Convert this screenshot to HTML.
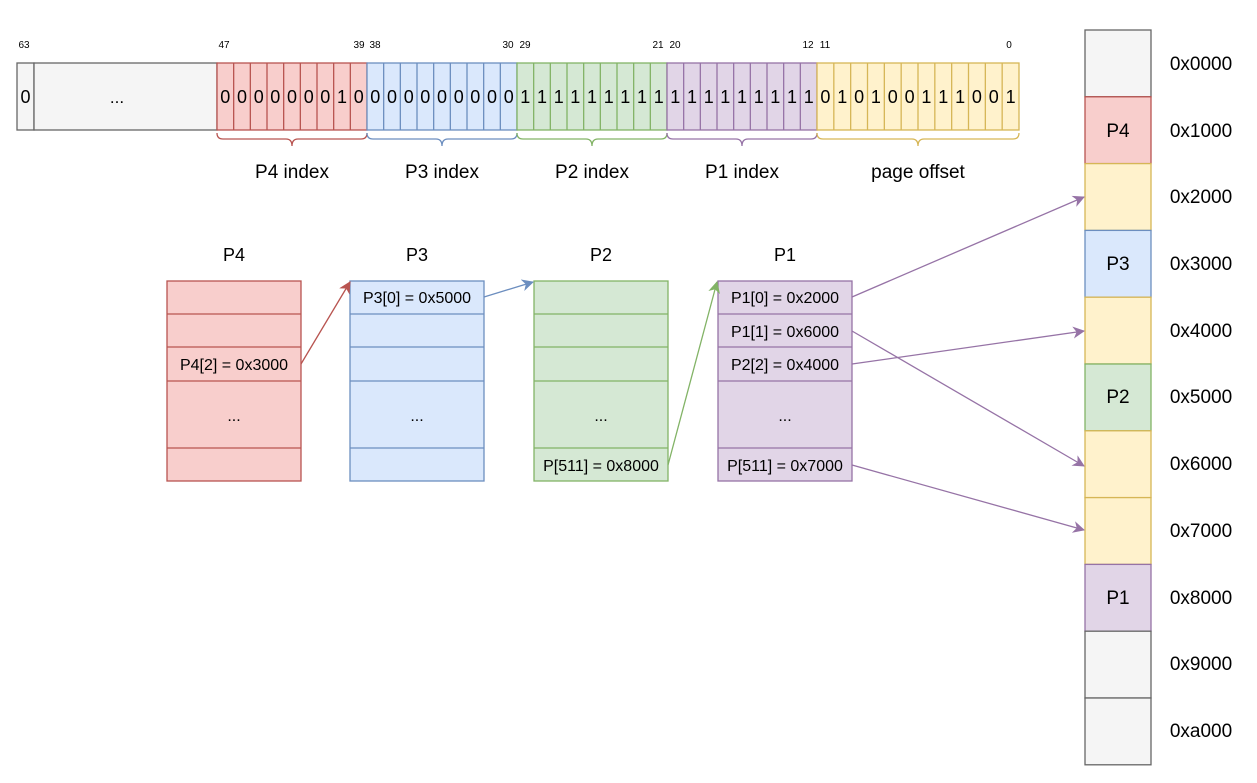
<!DOCTYPE html>
<html><head><meta charset="utf-8"><style>
html,body{margin:0;padding:0;background:#fff;}
svg{display:block;font-family:"Liberation Sans",Arial,sans-serif;}
</style></head><body>
<svg width="1257" height="783" viewBox="0 0 1257 783" xmlns="http://www.w3.org/2000/svg">
<defs>
<marker id="aR" markerWidth="12" markerHeight="12" refX="11" refY="6" orient="auto" markerUnits="userSpaceOnUse"><path d="M0,0 L12,6 L0,12 L3.5,6 Z" fill="#b85450"/></marker>
<marker id="aB" markerWidth="12" markerHeight="12" refX="11" refY="6" orient="auto" markerUnits="userSpaceOnUse"><path d="M0,0 L12,6 L0,12 L3.5,6 Z" fill="#6c8ebf"/></marker>
<marker id="aG" markerWidth="12" markerHeight="12" refX="11" refY="6" orient="auto" markerUnits="userSpaceOnUse"><path d="M0,0 L12,6 L0,12 L3.5,6 Z" fill="#82b366"/></marker>
<marker id="aP" markerWidth="12" markerHeight="12" refX="11" refY="6" orient="auto" markerUnits="userSpaceOnUse"><path d="M0,0 L12,6 L0,12 L3.5,6 Z" fill="#9673a6"/></marker>
</defs>

<g font-size="10" fill="#000" text-anchor="middle">
<text x="24" y="48">63</text><text x="224" y="48">47</text><text x="359" y="48">39</text><text x="375" y="48">38</text>
<text x="508" y="48">30</text><text x="525" y="48">29</text><text x="658" y="48">21</text><text x="675" y="48">20</text>
<text x="808" y="48">12</text><text x="825" y="48">11</text><text x="1009" y="48">0</text>
</g>

<rect x="17" y="63" width="17" height="67" fill="#f5f5f5" stroke="#666" stroke-width="1.3"/>
<rect x="34" y="63" width="183" height="67" fill="#f5f5f5" stroke="#666" stroke-width="1.3"/>
<text x="25.5" y="103" font-size="18" text-anchor="middle">0</text>
<text x="117" y="103" font-size="17" text-anchor="middle">...</text>

<g stroke="#b85450" stroke-width="1.3" fill="#f8cecc">
<rect x="217" y="63" width="150" height="67"/>
<path d="M233.67 63V130M250.33 63V130M267 63V130M283.67 63V130M300.33 63V130M317 63V130M333.67 63V130M350.33 63V130" fill="none"/>
</g>
<g stroke="#6c8ebf" stroke-width="1.3" fill="#dae8fc">
<rect x="367" y="63" width="150" height="67"/>
<path d="M383.67 63V130M400.33 63V130M417 63V130M433.67 63V130M450.33 63V130M467 63V130M483.67 63V130M500.33 63V130" fill="none"/>
</g>
<g stroke="#82b366" stroke-width="1.3" fill="#d5e8d4">
<rect x="517" y="63" width="150" height="67"/>
<path d="M533.67 63V130M550.33 63V130M567 63V130M583.67 63V130M600.33 63V130M617 63V130M633.67 63V130M650.33 63V130" fill="none"/>
</g>
<g stroke="#9673a6" stroke-width="1.3" fill="#e1d5e7">
<rect x="667" y="63" width="150" height="67"/>
<path d="M683.67 63V130M700.33 63V130M717 63V130M733.67 63V130M750.33 63V130M767 63V130M783.67 63V130M800.33 63V130" fill="none"/>
</g>
<g stroke="#d6b656" stroke-width="1.3" fill="#fff2cc">
<rect x="817" y="63" width="202" height="67"/>
<path d="M833.83 63V130M850.67 63V130M867.5 63V130M884.33 63V130M901.17 63V130M918 63V130M934.83 63V130M951.67 63V130M968.5 63V130M985.33 63V130M1002.17 63V130" fill="none"/>
</g>

<g font-size="18" text-anchor="middle" fill="#000">
<text x="225.3" y="103">0</text><text x="242" y="103">0</text><text x="258.7" y="103">0</text><text x="275.3" y="103">0</text><text x="292" y="103">0</text><text x="308.7" y="103">0</text><text x="325.3" y="103">0</text><text x="342" y="103">1</text><text x="358.7" y="103">0</text>
<text x="375.3" y="103">0</text><text x="392" y="103">0</text><text x="408.7" y="103">0</text><text x="425.3" y="103">0</text><text x="442" y="103">0</text><text x="458.7" y="103">0</text><text x="475.3" y="103">0</text><text x="492" y="103">0</text><text x="508.7" y="103">0</text>
<text x="525.3" y="103">1</text><text x="542" y="103">1</text><text x="558.7" y="103">1</text><text x="575.3" y="103">1</text><text x="592" y="103">1</text><text x="608.7" y="103">1</text><text x="625.3" y="103">1</text><text x="642" y="103">1</text><text x="658.7" y="103">1</text>
<text x="675.3" y="103">1</text><text x="692" y="103">1</text><text x="708.7" y="103">1</text><text x="725.3" y="103">1</text><text x="742" y="103">1</text><text x="758.7" y="103">1</text><text x="775.3" y="103">1</text><text x="792" y="103">1</text><text x="808.7" y="103">1</text>
<text x="825.4" y="103">0</text><text x="842.3" y="103">1</text><text x="859.1" y="103">0</text><text x="875.9" y="103">1</text><text x="892.8" y="103">0</text><text x="909.6" y="103">0</text><text x="926.4" y="103">1</text><text x="943.3" y="103">1</text><text x="960.1" y="103">1</text><text x="976.9" y="103">0</text><text x="993.8" y="103">0</text><text x="1010.6" y="103">1</text>
</g>

<g fill="none" stroke-width="1.3">
<path stroke="#b85450" d="M217 133 Q217 139 223 139 L286 139 Q292 139 292 146 Q292 139 298 139 L361 139 Q367 139 367 133"/>
<path stroke="#6c8ebf" d="M367 133 Q367 139 373 139 L436 139 Q442 139 442 146 Q442 139 448 139 L511 139 Q517 139 517 133"/>
<path stroke="#82b366" d="M517 133 Q517 139 523 139 L586 139 Q592 139 592 146 Q592 139 598 139 L661 139 Q667 139 667 133"/>
<path stroke="#9673a6" d="M667 133 Q667 139 673 139 L736 139 Q742 139 742 146 Q742 139 748 139 L811 139 Q817 139 817 133"/>
<path stroke="#d6b656" d="M817 133 Q817 139 823 139 L912 139 Q918 139 918 146 Q918 139 924 139 L1013 139 Q1019 139 1019 133"/>
</g>
<g font-size="19" text-anchor="middle">
<text x="292" y="178">P4 index</text><text x="442" y="178">P3 index</text><text x="592" y="178">P2 index</text><text x="742" y="178">P1 index</text><text x="918" y="178">page offset</text>
</g>

<g font-size="18" text-anchor="middle">
<text x="234" y="261">P4</text><text x="417" y="261">P3</text><text x="601" y="261">P2</text><text x="785" y="261">P1</text>
</g>
<g stroke="#b85450" stroke-width="1.3" fill="#f8cecc">
<rect x="167" y="281" width="134" height="200"/>
<path d="M167 314H301M167 347H301M167 381H301M167 448H301" fill="none"/>
</g>
<g stroke="#6c8ebf" stroke-width="1.3" fill="#dae8fc">
<rect x="350" y="281" width="134" height="200"/>
<path d="M350 314H484M350 347H484M350 381H484M350 448H484" fill="none"/>
</g>
<g stroke="#82b366" stroke-width="1.3" fill="#d5e8d4">
<rect x="534" y="281" width="134" height="200"/>
<path d="M534 314H668M534 347H668M534 381H668M534 448H668" fill="none"/>
</g>
<g stroke="#9673a6" stroke-width="1.3" fill="#e1d5e7">
<rect x="718" y="281" width="134" height="200"/>
<path d="M718 314H852M718 347H852M718 381H852M718 448H852" fill="none"/>
</g>
<g font-size="16" text-anchor="middle">
<text x="234" y="370">P4[2] = 0x3000</text><text x="234" y="421">...</text>
<text x="417" y="303">P3[0] = 0x5000</text><text x="417" y="421">...</text>
<text x="601" y="421">...</text><text x="601" y="471">P[511] = 0x8000</text>
<text x="785" y="303">P1[0] = 0x2000</text><text x="785" y="337">P1[1] = 0x6000</text><text x="785" y="370">P2[2] = 0x4000</text><text x="785" y="421">...</text><text x="785" y="471">P[511] = 0x7000</text>
</g>

<g stroke-width="1.3">
<rect x="1085" y="30" width="66" height="66.8" fill="#f5f5f5" stroke="#666"/>
<rect x="1085" y="96.8" width="66" height="66.8" fill="#f8cecc" stroke="#b85450"/>
<rect x="1085" y="163.6" width="66" height="66.8" fill="#fff2cc" stroke="#d6b656"/>
<rect x="1085" y="230.4" width="66" height="66.8" fill="#dae8fc" stroke="#6c8ebf"/>
<rect x="1085" y="297.2" width="66" height="66.8" fill="#fff2cc" stroke="#d6b656"/>
<rect x="1085" y="364" width="66" height="66.8" fill="#d5e8d4" stroke="#82b366"/>
<rect x="1085" y="430.8" width="66" height="66.8" fill="#fff2cc" stroke="#d6b656"/>
<rect x="1085" y="497.6" width="66" height="66.8" fill="#fff2cc" stroke="#d6b656"/>
<rect x="1085" y="564.4" width="66" height="66.8" fill="#e1d5e7" stroke="#9673a6"/>
<rect x="1085" y="631.2" width="66" height="66.8" fill="#f5f5f5" stroke="#666"/>
<rect x="1085" y="698" width="66" height="66.8" fill="#f5f5f5" stroke="#666"/>
</g>
<g font-size="19" text-anchor="middle">
<text x="1118" y="137">P4</text><text x="1118" y="270">P3</text><text x="1118" y="403">P2</text><text x="1118" y="604">P1</text>
</g>
<g font-size="19" text-anchor="middle">
<text x="1201" y="70">0x0000</text><text x="1201" y="137">0x1000</text><text x="1201" y="203">0x2000</text><text x="1201" y="270">0x3000</text>
<text x="1201" y="337">0x4000</text><text x="1201" y="403">0x5000</text><text x="1201" y="470">0x6000</text><text x="1201" y="537">0x7000</text>
<text x="1201" y="604">0x8000</text><text x="1201" y="670">0x9000</text><text x="1201" y="737">0xa000</text>
</g>

<g fill="none" stroke-width="1.3">
<path d="M301 364 L350 282" stroke="#b85450" marker-end="url(#aR)"/>
<path d="M484 297 L533 282" stroke="#6c8ebf" marker-end="url(#aB)"/>
<path d="M668 465 L717 282" stroke="#82b366" marker-end="url(#aG)"/>
<path d="M852 297 L1084 197" stroke="#9673a6" marker-end="url(#aP)"/>
<path d="M852 331 L1084 466" stroke="#9673a6" marker-end="url(#aP)"/>
<path d="M852 364 L1084 331" stroke="#9673a6" marker-end="url(#aP)"/>
<path d="M852 465 L1084 530" stroke="#9673a6" marker-end="url(#aP)"/>
</g>
</svg>
</body></html>
